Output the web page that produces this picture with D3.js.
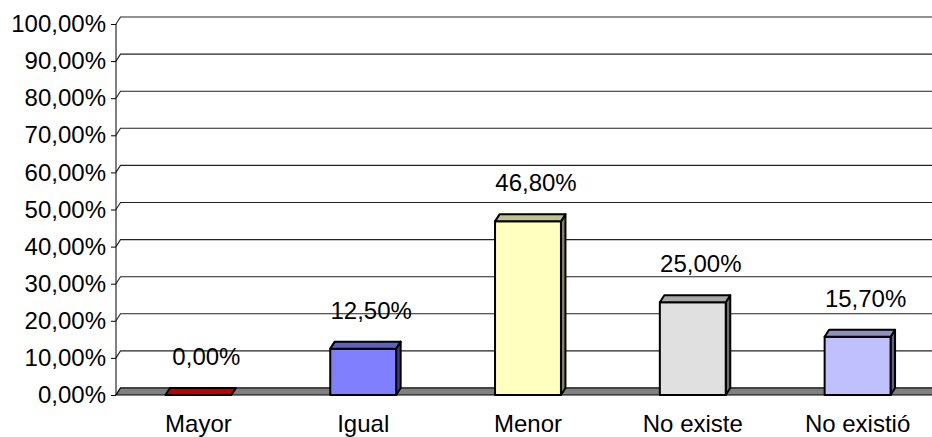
<!DOCTYPE html>
<html>
<head>
<meta charset="utf-8">
<script src="https://cdn.jsdelivr.net/npm/d3@7"></script>
<style>
  html, body { margin: 0; padding: 0; background: #fff; }
  svg { display: block; }
  text { font-family: "Liberation Sans", Arial, sans-serif; fill: #000; }
</style>
</head>
<body>
<svg id="chart" width="932" height="437"></svg>
<script>
// Categories and their percentages
const categories = ["Mayor", "Igual", "Menor", "No existe", "No existió"];
const values = [0.0, 12.5, 46.8, 25.0, 15.7];
const barColors = ["#FF0000", "#8080FF", "#FFFFC0", "#E0E0E0", "#C0C0FF"];
const yTicks = [0, 10, 20, 30, 40, 50, 60, 70, 80, 90, 100];

const W = 932, H = 437;
const plotLeft = 116, plotRight = 940, plotTop = 24, plotBottom = 395;
const dx = 4.5, dy = 7;          // 3D depth offset
const fontSize = 24;

const svg = d3.select("#chart");

const locale = d3.formatLocale({ decimal: ",", thousands: ".", grouping: [3], currency: ["", "€"] });
const fmt = v => locale.format(".2f")(v) + "%";

const x = d3.scaleBand().domain(categories).range([plotLeft, plotRight])
  .paddingInner(0.6).paddingOuter(0.3);
const y = d3.scaleLinear().domain([0, 100]).range([plotBottom, plotTop]);

// Back-wall gridlines with the diagonal run across the side wall
const grid = svg.append("g");
yTicks.forEach(t => {
  grid.append("path")
    .attr("d", `M${plotLeft},${y(t)} L${plotLeft + dx},${y(t) - dy} L${W + 20},${y(t) - dy}`)
    .attr("fill", "none").attr("stroke", "#222").attr("stroke-width", 1.1);
});

// Floor
svg.append("path")
  .attr("d", `M${plotLeft},${plotBottom} L${plotRight + 20},${plotBottom} L${plotRight + 20 + dx},${plotBottom - dy} L${plotLeft + dx},${plotBottom - dy} Z`)
  .attr("fill", "#808080").attr("stroke", "#000").attr("stroke-width", 1.2);

// Value axis
const yAxis = d3.axisLeft(y).tickValues(yTicks).tickSize(5).tickPadding(5).tickFormat(fmt);
const ax = svg.append("g").attr("transform", `translate(${plotLeft},0)`).call(yAxis);
ax.select(".domain").attr("stroke", "#000").attr("d", `M0,${y(100)}V${y(0)}`);
ax.selectAll(".tick line").attr("stroke", "#000");
ax.selectAll(".tick text")
  .attr("font-size", fontSize).attr("font-family", "Liberation Sans, Arial, sans-serif")
  .attr("fill", "#000");

// Category labels
const xAxis = d3.axisBottom(x).tickSize(0).tickPadding(0);
const cx = svg.append("g").attr("transform", `translate(0,${plotBottom})`).call(xAxis);
cx.select(".domain").remove();
cx.selectAll(".tick text")
  .attr("font-size", fontSize).attr("font-family", "Liberation Sans, Arial, sans-serif")
  .attr("fill", "#000").attr("dy", null).attr("y", 37);

// 3D columns
const shade = (c, k) => { const r = d3.rgb(c); return d3.rgb(r.r * k, r.g * k, r.b * k).formatHex(); };
const bars = svg.append("g");
categories.forEach((c, i) => {
  const x0 = x(c), x1 = x0 + x.bandwidth();
  const yv = y(values[i]), y0 = y(0);
  const g = bars.append("g").attr("stroke", "#000").attr("stroke-width", 2).attr("stroke-linejoin", "round");
  if (values[i] > 0) {
    g.append("path")
      .attr("d", `M${x1},${yv} L${x1 + dx},${yv - dy} L${x1 + dx},${y0 - dy} L${x1},${y0} Z`)
      .attr("fill", shade(barColors[i], 0.5));
    g.append("rect").attr("x", x0).attr("y", yv).attr("width", x1 - x0).attr("height", y0 - yv)
      .attr("fill", barColors[i]);
  }
  g.append("path")
    .attr("d", `M${x0},${yv} L${x0 + dx},${yv - dy} L${x1 + dx},${yv - dy} L${x1},${yv} Z`)
    .attr("fill", shade(barColors[i], 0.75));
});

// Value labels
svg.append("g").selectAll("text").data(categories).join("text")
  .attr("x", d => x(d) + x.bandwidth() / 2 + 8)
  .attr("y", (d, i) => y(values[i]) - 30)
  .attr("text-anchor", "middle")
  .attr("font-size", fontSize)
  .text((d, i) => fmt(values[i]));
</script>
</body>
</html>
